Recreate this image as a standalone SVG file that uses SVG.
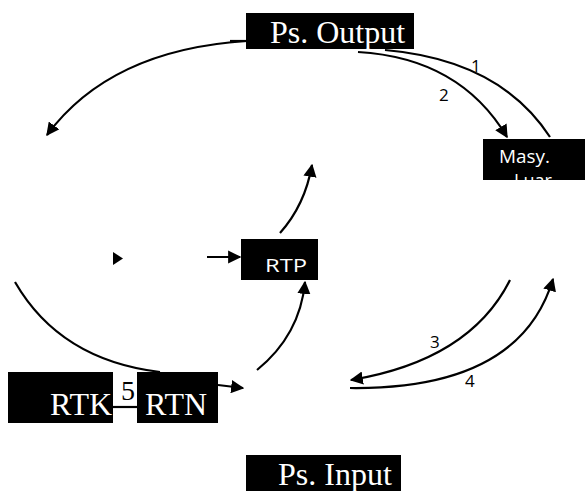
<svg xmlns="http://www.w3.org/2000/svg" width="585" height="491" viewBox="0 0 585 491">
<style>
.box{fill:#000}
.ser{font-family:"Liberation Serif","Times New Roman",serif;fill:#fff;font-size:32px}
.hand{font-family:"Open Sans","DejaVu Sans",sans-serif;fill:#fff}
.lbl{font-family:"Open Sans","DejaVu Sans",sans-serif;fill:#000;font-size:17px}
.c{fill:none;stroke:#000;stroke-width:2.2}
</style>
<defs>
<marker id="ah" viewBox="0 0 10 10" refX="9" refY="5" markerWidth="6" markerHeight="6" orient="auto" markerUnits="strokeWidth">
<path d="M0,0 L10,5 L0,10 z" fill="#000"/>
</marker>
<clipPath id="mclip"><rect x="483" y="139" width="102" height="41"/></clipPath>
</defs>
<g id="connectors">
<path class="c" d="M246,41 Q110,50 47,135" marker-end="url(#ah)"/>
<path class="c" d="M230,41 L246,41"/>
<path class="c" d="M358,52 Q460,58 507,137" marker-end="url(#ah)"/>
<path class="c" d="M385,50 Q500,60 550,137"/>
<path class="c" d="M367,37 L367,50"/>
<path class="c" d="M280,233 Q305,205 312,165" marker-end="url(#ah)"/>
<path d="M113,252 L123,258.5 L113,265 z" fill="#000"/>
<path class="c" d="M207,257 L240,257" marker-end="url(#ah)"/>
<path class="c" d="M257,370 Q300,335 305,282" marker-end="url(#ah)"/>
<path class="c" d="M15,282 Q60,360 160,372"/>
<path class="c" d="M113,407 L137,407"/>
<path class="c" d="M218,385 L243,388" marker-end="url(#ah)"/>
<path class="c" d="M510,280 Q470,360 351,380" marker-end="url(#ah)"/>
<path class="c" d="M350,388 Q520,390 553,279" marker-end="url(#ah)"/>
<text class="lbl" x="471" y="72">1</text>
<text class="lbl" x="439" y="101">2</text>
<text class="lbl" x="430" y="348">3</text>
<text class="lbl" x="465" y="387">4</text>
<text x="121" y="400" font-family="Liberation Serif,serif" font-size="28" fill="#000">5</text>
</g>
<g id="ps-output">
<rect class="box" x="246" y="13" width="168" height="36"/>
<text class="ser" x="270" y="43">Ps. Output</text>
</g>
<g id="masy-luar">
<rect class="box" x="483" y="139" width="102" height="41"/>
<g clip-path="url(#mclip)">
<text class="hand" x="499" y="163" font-size="18" textLength="51" lengthAdjust="spacingAndGlyphs">Masy.</text>
<text class="hand" x="514" y="187" font-size="18">Luar</text>
</g>
</g>
<g id="rtp">
<rect class="box" x="241" y="239" width="77" height="41"/>
<text class="hand" x="265" y="272" font-size="19" textLength="42" lengthAdjust="spacingAndGlyphs">RTP</text>
</g>
<g id="rtk">
<rect class="box" x="8" y="372" width="105" height="51"/>
<text class="ser" x="50" y="415">RTK</text>
</g>
<g id="rtn">
<rect class="box" x="137" y="372" width="81" height="51"/>
<text class="ser" x="145" y="415">RTN</text>
</g>
<g id="ps-input">
<rect class="box" x="246" y="455" width="155" height="36"/>
<text class="ser" x="278" y="485">Ps. Input</text>
</g>
</svg>
